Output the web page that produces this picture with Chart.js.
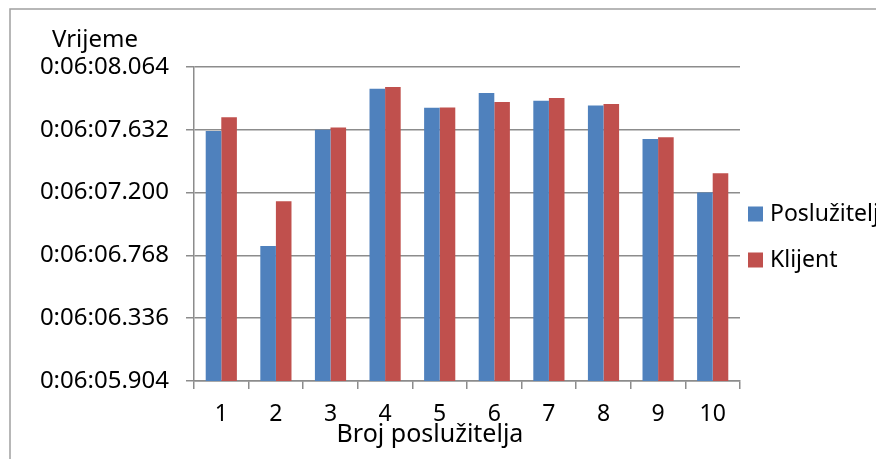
<!DOCTYPE html>
<html>
<head>
<meta charset="utf-8">
<script src="https://cdn.jsdelivr.net/npm/chart.js@4"></script>
<style>
  html, body { margin: 0; padding: 0; background: #fff; }
  #wrap { width: 876px; height: 459px; }
</style>
</head>
<body>
<div id="wrap"><canvas id="chart" width="876" height="459"></canvas></div>
<script>
// podaci očitani sa slike (sekunde, tj. 0:06:07.623 -> 367.623)
const categories = ['1', '2', '3', '4', '5', '6', '7', '8', '9', '10'];
const posluzitelj = [367.623, 366.832, 367.632, 367.914, 367.783, 367.885, 367.832, 367.799, 367.568, 367.200];
const klijent     = [367.719, 367.140, 367.648, 367.926, 367.785, 367.823, 367.850, 367.809, 367.581, 367.333];

const yTicks = [365.904, 366.336, 366.768, 367.200, 367.632, 368.064];
const yTickLabels = ['0:06:05.904', '0:06:06.336', '0:06:06.768', '0:06:07.200', '0:06:07.632', '0:06:08.064'];

const seriesNames = ['Poslužitelj', 'Klijent'];
const seriesColors = ['#4F81BD', '#C0504D'];

const FONT = '"Noto Sans", "Open Sans", sans-serif';
const GRID = '#8c8c8c';

// naslovi osi, okvir i legenda
const decorPlugin = {
    id: 'decor',
    afterDraw(chart) {
        const ctx = chart.ctx;
        ctx.save();
        ctx.strokeStyle = '#a0a0a0';
        ctx.lineWidth = 1.5;
        ctx.strokeRect(10, 9, 1000, 1000);

        ctx.fillStyle = '#000';
        ctx.font = `24px ${FONT}`;
        ctx.textAlign = 'left';
        ctx.textBaseline = 'alphabetic';
        ctx.fillText('Vrijeme', 52, 47);

        ctx.font = `25px ${FONT}`;
        ctx.textAlign = 'center';
        ctx.fillText('Broj poslužitelja', 430, 442);

        // legenda
        ctx.font = `23px ${FONT}`;
        ctx.textAlign = 'left';
        ctx.textBaseline = 'middle';
        const legendY = [214, 260];
        seriesNames.forEach((name, i) => {
            ctx.fillStyle = seriesColors[i];
            ctx.fillRect(748, legendY[i] - 7.5, 15, 15);
            ctx.fillStyle = '#000';
            ctx.fillText(name, 770, legendY[i]);
        });
        ctx.restore();
    }
};

new Chart(document.getElementById('chart'), {
    type: 'bar',
    data: {
        labels: categories,
        datasets: [
            { label: seriesNames[0], data: posluzitelj, backgroundColor: seriesColors[0] },
            { label: seriesNames[1], data: klijent, backgroundColor: seriesColors[1] }
        ]
    },
    options: {
        responsive: false,
        animation: false,
        devicePixelRatio: 1,
        layout: { padding: { left: 10, right: 136, top: 67, bottom: 0 } },
        datasets: { bar: { categoryPercentage: 0.571, barPercentage: 1 } },
        plugins: { legend: { display: false }, tooltip: { enabled: false } },
        scales: {
            x: {
                afterFit: s => { s.height = 78; },
                grid: { drawOnChartArea: false, offset: true, color: GRID, lineWidth: 1.5, tickLength: 8 },
                border: { color: GRID, width: 1.5 },
                ticks: { color: '#000', font: { family: FONT, size: 23 }, padding: 12 }
            },
            y: {
                min: yTicks[0],
                max: yTicks[yTicks.length - 1],
                afterFit: s => { s.width = 184; },
                afterBuildTicks: s => { s.ticks = yTicks.map(v => ({ value: v })); },
                grid: { color: GRID, lineWidth: 1.5, tickLength: 8 },
                border: { color: GRID, width: 1.5 },
                ticks: {
                    color: '#000',
                    font: { family: FONT, size: 24 },
                    padding: 17,
                    callback: (v, i) => yTickLabels[i]
                }
            }
        }
    },
    plugins: [decorPlugin]
});
</script>
</body>
</html>
